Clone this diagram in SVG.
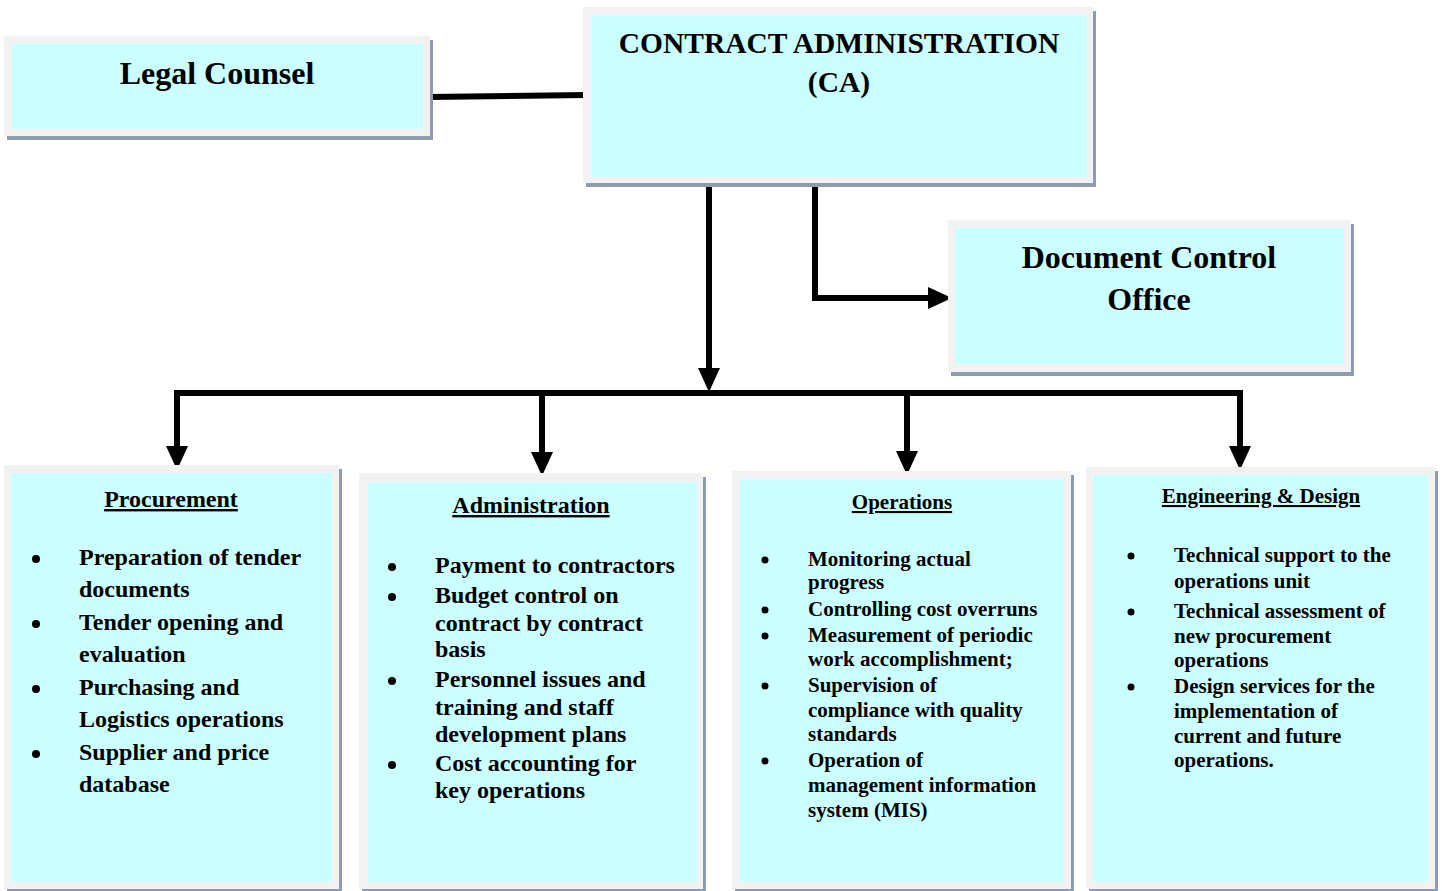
<svg xmlns="http://www.w3.org/2000/svg" width="1442" height="891" viewBox="0 0 1442 891">
<style>
.sh{fill:#8f9bb0}
.out{fill:#f2f2f2}
.in{fill:#ccffff}
text{font-family:"Liberation Serif","Times New Roman",serif;font-weight:bold;fill:#000}
.t32{font-size:32px;text-anchor:middle}
.t30{font-size:29.5px;text-anchor:middle}
.h24{font-size:24px;text-anchor:middle;text-decoration:underline}
.h21{font-size:21px;text-anchor:middle;text-decoration:underline}
.b24{font-size:24px}
.b21{font-size:21px}
.conn{fill:none;stroke:#000;stroke-width:6;stroke-linejoin:miter}
.dot{fill:#000}
</style>
<defs>
<marker id="arr" viewBox="0 0 24 22" refX="0" refY="11" markerWidth="24" markerHeight="22" markerUnits="userSpaceOnUse" orient="auto">
<path d="M0,0 L24,11 L0,22 z" fill="#000"/>
</marker>
</defs>
<g id="connectors">
<path class="conn" d="M428,97 L587,95"/>
<path class="conn" d="M709,182 V368" marker-end="url(#arr)"/>
<path class="conn" d="M815,182 V298 H928" marker-end="url(#arr)"/>
<path class="conn" d="M174,393 H1243"/>
<path class="conn" d="M177,393 V446" marker-end="url(#arr)"/>
<path class="conn" d="M542,393 V452" marker-end="url(#arr)"/>
<path class="conn" d="M907,393 V451" marker-end="url(#arr)"/>
<path class="conn" d="M1240,393 V446" marker-end="url(#arr)"/>
</g>
<g id="legal">
<rect class="sh" x="7" y="40" width="426" height="100"/>
<rect class="out" x="4" y="36" width="426" height="100"/>
<rect class="in" x="12" y="44" width="411" height="85"/>
<text class="t32" x="217" y="84">Legal Counsel</text>
</g>
<g id="ca">
<rect class="sh" x="586" y="11" width="510" height="176"/>
<rect class="out" x="583" y="7" width="510" height="176"/>
<rect class="in" x="591" y="15" width="496" height="162"/>
<text class="t30" x="839" y="53">CONTRACT ADMINISTRATION</text>
<text class="t30" x="839" y="92">(CA)</text>
</g>
<g id="dco">
<rect class="sh" x="951" y="224" width="403" height="152"/>
<rect class="out" x="948" y="220" width="403" height="152"/>
<rect class="in" x="955" y="228" width="389" height="136"/>
<text class="t32" x="1149" y="268">Document Control</text>
<text class="t32" x="1149" y="310">Office</text>
</g>
<g id="procurement">
<rect class="sh" x="7" y="469" width="335" height="424"/>
<rect class="out" x="4" y="465" width="335" height="424"/>
<rect class="in" x="11" y="473" width="321" height="409"/>
<text class="h24" x="171" y="507">Procurement</text>
<circle class="dot" cx="36" cy="559" r="4"/>
<circle class="dot" cx="36" cy="624" r="4"/>
<circle class="dot" cx="36" cy="689" r="4"/>
<circle class="dot" cx="36" cy="754" r="4"/>
<text class="b24" x="79" y="565">Preparation of tender</text>
<text class="b24" x="79" y="597">documents</text>
<text class="b24" x="79" y="630">Tender opening and</text>
<text class="b24" x="79" y="662">evaluation</text>
<text class="b24" x="79" y="695">Purchasing and</text>
<text class="b24" x="79" y="727">Logistics operations</text>
<text class="b24" x="79" y="760">Supplier and price</text>
<text class="b24" x="79" y="792">database</text>
</g>
<g id="administration">
<rect class="sh" x="362" y="477" width="344" height="416"/>
<rect class="out" x="359" y="473" width="344" height="416"/>
<rect class="in" x="368" y="482" width="329" height="400"/>
<text class="h24" x="531" y="513">Administration</text>
<circle class="dot" cx="392" cy="567" r="4"/>
<circle class="dot" cx="392" cy="597" r="4"/>
<circle class="dot" cx="392" cy="681" r="4"/>
<circle class="dot" cx="392" cy="765" r="4"/>
<text class="b24" x="435" y="573">Payment to contractors</text>
<text class="b24" x="435" y="603">Budget control on</text>
<text class="b24" x="435" y="631">contract by contract</text>
<text class="b24" x="435" y="657">basis</text>
<text class="b24" x="435" y="687">Personnel issues and</text>
<text class="b24" x="435" y="715">training and staff</text>
<text class="b24" x="435" y="742">development plans</text>
<text class="b24" x="435" y="771">Cost accounting for</text>
<text class="b24" x="435" y="798">key operations</text>
</g>
<g id="operations">
<rect class="sh" x="735" y="475" width="339" height="418"/>
<rect class="out" x="732" y="471" width="339" height="418"/>
<rect class="in" x="740" y="479" width="324" height="403"/>
<text class="h21" x="902" y="509">Operations</text>
<circle class="dot" cx="765" cy="560" r="3.5"/>
<circle class="dot" cx="765" cy="610" r="3.5"/>
<circle class="dot" cx="765" cy="636" r="3.5"/>
<circle class="dot" cx="765" cy="686" r="3.5"/>
<circle class="dot" cx="765" cy="761" r="3.5"/>
<text class="b21" x="808" y="566">Monitoring actual</text>
<text class="b21" x="808" y="589">progress</text>
<text class="b21" x="808" y="616">Controlling cost overruns</text>
<text class="b21" x="808" y="642">Measurement of periodic</text>
<text class="b21" x="808" y="666">work accomplishment;</text>
<text class="b21" x="808" y="692">Supervision of</text>
<text class="b21" x="808" y="717">compliance with quality</text>
<text class="b21" x="808" y="741">standards</text>
<text class="b21" x="808" y="767">Operation of</text>
<text class="b21" x="808" y="792">management information</text>
<text class="b21" x="808" y="817">system (MIS)</text>
</g>
<g id="engineering">
<rect class="sh" x="1089" y="471" width="349" height="422"/>
<rect class="out" x="1086" y="467" width="349" height="422"/>
<rect class="in" x="1093" y="475" width="335" height="407"/>
<text class="h21" x="1261" y="503">Engineering &amp; Design</text>
<circle class="dot" cx="1131" cy="556" r="3.5"/>
<circle class="dot" cx="1131" cy="612" r="3.5"/>
<circle class="dot" cx="1131" cy="687" r="3.5"/>
<text class="b21" x="1174" y="562">Technical support to the</text>
<text class="b21" x="1174" y="588">operations unit</text>
<text class="b21" x="1174" y="618">Technical assessment of</text>
<text class="b21" x="1174" y="643">new procurement</text>
<text class="b21" x="1174" y="667">operations</text>
<text class="b21" x="1174" y="693">Design services for the</text>
<text class="b21" x="1174" y="718">implementation of</text>
<text class="b21" x="1174" y="743">current and future</text>
<text class="b21" x="1174" y="767">operations.</text>
</g>
</svg>
